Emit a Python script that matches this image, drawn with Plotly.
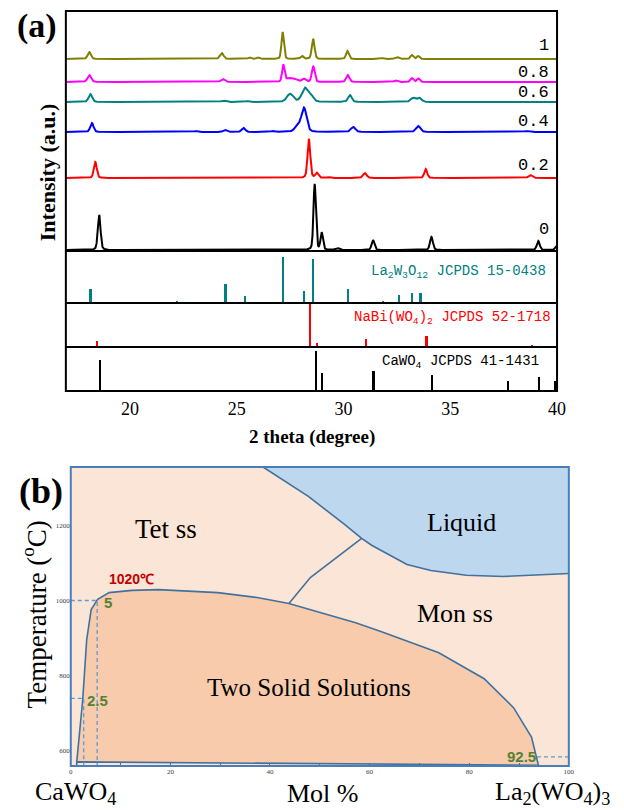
import numpy as np
import plotly.graph_objects as go

# ---------------- DATA : panel (a) XRD ----------------
# peaks: (2theta, intensity a.u., FWHM deg)
peaks_0 = [(18.56, 35, 0.15), (28.65, 66, 0.13), (28.98, 17, 0.13), (29.7, 2, 0.2),
           (31.38, 10, 0.15), (34.12, 13, 0.16), (39.12, 9, 0.16), (39.98, 4, 0.15)]
peaks_02 = [(18.38, 16, 0.16), (28.38, 39, 0.15), (28.75, 5, 0.16), (29.3, 1, 0.2),
            (31.0, 5, 0.2), (33.85, 9, 0.16), (38.75, 3, 0.2)]
peaks_04 = [(18.22, 9, 0.18), (23.1, 1, 0.2), (24.45, 2, 0.2), (25.32, 4, 0.2),
            (26.7, 1, 0.2), (27.85, 6, 0.3), (28.15, 24, 0.28), (30.45, 5, 0.25),
            (33.5, 6, 0.25), (38.6, 1, 0.3)]
peaks_06 = [(18.15, 8, 0.2), (24.4, 1.5, 0.25), (25.5, 1, 0.2), (27.5, 8, 0.35),
            (28.2, 14, 0.35), (28.5, 5, 0.25), (30.3, 7, 0.2), (33.25, 4, 0.25),
            (33.55, 4, 0.25)]
peaks_08 = [(18.1, 7, 0.2), (24.35, 3, 0.2), (27.18, 17, 0.13), (27.45, 4, 0.3),
            (27.75, 2.5, 0.3), (28.15, 3, 0.2), (28.58, 16, 0.15), (30.2, 7, 0.18),
            (32.45, 1.5, 0.2), (33.2, 4, 0.15), (33.5, 3.5, 0.15)]
peaks_1 = [(18.1, 7, 0.18), (24.3, 6, 0.2), (25.6, 1.5, 0.15), (26.0, 1.5, 0.15),
           (27.15, 27, 0.13), (28.05, 3, 0.15), (28.58, 20, 0.15), (30.18, 8, 0.15),
           (31.8, 1, 0.2), (32.5, 2, 0.2), (33.2, 4, 0.15), (33.5, 3, 0.15)]
sample_labels = ["0", "0.2", "0.4", "0.6", "0.8", "1"]

# reference stick patterns
la_pos = [18.15, 22.2, 24.47, 25.4, 27.15, 28.16, 28.58, 30.22, 31.86, 32.6, 33.2, 33.6]
la_int = [14, 2.4, 19, 7, 46, 12, 44, 14, 2.4, 8, 10, 10]
nabi_pos = [18.47, 28.42, 28.75, 31.05, 33.88, 38.82]
nabi_int = [6, 43, 3.6, 8.4, 11, 2]
ca_pos = [18.6, 28.7, 29.0, 31.4, 34.15, 37.7, 39.15, 39.9]
ca_int = [31, 40, 18, 20, 16, 10, 14, 10]
xrd_ticks = [20, 25, 30, 35, 40]

# ---------------- DATA : panel (b) phase diagram ----------------
liquidus_x = [38.6, 47.7, 54.9, 58.4, 60.4, 67.5, 72.3, 79.4, 86.9, 100]
liquidus_T = [1355, 1277, 1203, 1165, 1147, 1096, 1080, 1067, 1064, 1072]
tetmon_x = [58.4, 48.1, 43.8]
tetmon_T = [1165, 1061, 992]
solvus_x = [1.2, 2.4, 3.2, 4.1, 5.4, 7.7, 12.3, 17.6, 29.5, 37.4, 43.8, 57.2, 62.4,
            73.9, 83.0, 88.9, 92.5, 93.9]
solvus_T = [571, 736, 896, 976, 1003, 1021, 1027, 1029, 1021, 1008, 992, 941, 917,
            861, 792, 715, 637, 562]
base_x = [93.9, 1.2, 1.2]
base_T = [562, 571, 560]
dash5_x, dash5_T = [0, 5.3, 5.3], [1000, 1000, 560]
dash25_x, dash25_T = [0, 2.6, 2.6], [740, 740, 560]
dash925_x, dash925_T = [93.6, 100], [584, 584]
pd_xticks = [0, 10, 20, 30, 40, 50, 60, 70, 80, 90, 100]
pd_xticktext = ["0", "", "20", "", "40", "", "60", "", "80", "", "100"]
pd_yticks = [600, 800, 1000, 1200]

# ---------------- helpers / styles ----------------
W, H = 624, 810
def px(x):
    return x / W
def py(y):
    return 1 - y / H

grid = np.linspace(17, 40, 4601)
def profile(peaks):
    y = np.zeros_like(grid)
    for p, h, w in peaks:
        d = (grid - p) / w
        y += h * (0.3 / (1 + 4 * d * d) + 0.7 * np.exp(-4 * np.log(2) * d * d))
    return y

all_peaks = [peaks_0, peaks_02, peaks_04, peaks_06, peaks_08, peaks_1]
style = {
    "colors": ["#000000", "#FF0000", "#0000FF", "#008080", "#FF00FF", "#808000"],
    "offsets": [1, 73, 119, 149, 169, 192],
    "label_y": [229, 165, 122, 92, 72, 45],
}

fig = go.Figure()

for pk, c, off in zip(all_peaks, style["colors"], style["offsets"]):
    fig.add_trace(go.Scatter(x=grid, y=profile(pk) + off, mode="lines",
                             line=dict(color=c, width=2), xaxis="x", yaxis="y",
                             hoverinfo="skip"))

fig.add_trace(go.Bar(x=la_pos, y=la_int, width=0.1, marker=dict(color="#008080", line_width=0),
                     xaxis="x", yaxis="y2"))
fig.add_trace(go.Bar(x=nabi_pos, y=nabi_int, width=0.1, marker=dict(color="#FF0000", line_width=0),
                     xaxis="x", yaxis="y3"))
fig.add_trace(go.Bar(x=ca_pos, y=ca_int, width=0.1, marker=dict(color="#000000", line_width=0),
                     xaxis="x", yaxis="y4"))

# ---- panel (b) ----
pd_line = dict(color="#41719C", width=1.6)
fig.add_trace(go.Scatter(x=liquidus_x + [100, liquidus_x[0]], y=liquidus_T + [1355, liquidus_T[0]],
                         fill="toself", fillcolor="#BDD7EE", mode="lines",
                         line=dict(width=0), xaxis="x2", yaxis="y5", hoverinfo="skip"))
fig.add_trace(go.Scatter(x=solvus_x + base_x[:2], y=solvus_T + base_T[:2],
                         fill="toself", fillcolor="#F8CBAD", mode="lines",
                         line=dict(width=0), xaxis="x2", yaxis="y5", hoverinfo="skip"))
fig.add_trace(go.Scatter(x=liquidus_x, y=liquidus_T, mode="lines", line=pd_line,
                         xaxis="x2", yaxis="y5"))
fig.add_trace(go.Scatter(x=tetmon_x, y=tetmon_T, mode="lines", line=pd_line,
                         xaxis="x2", yaxis="y5"))
fig.add_trace(go.Scatter(x=solvus_x, y=solvus_T, mode="lines", line=pd_line,
                         xaxis="x2", yaxis="y5"))
fig.add_trace(go.Scatter(x=base_x, y=base_T, mode="lines", line=pd_line,
                         xaxis="x2", yaxis="y5"))
for dx, dT in [(dash5_x, dash5_T), (dash25_x, dash25_T), (dash925_x, dash925_T)]:
    fig.add_trace(go.Scatter(x=dx, y=dT, mode="lines",
                             line=dict(color="#5B9BD5", width=1.3, dash="4px,3px"),
                             xaxis="x2", yaxis="y5"))

serif = "Liberation Serif"
mono = "Liberation Mono"
sans = "Liberation Sans"

A_TOP, A_D1, A_D2, A_D3, A_BOT = 11, 251, 303, 347, 391

hidden = dict(visible=False, showgrid=False, zeroline=False, fixedrange=True)
fig.update_layout(
    width=W, height=H, margin=dict(l=0, r=0, t=0, b=0),
    paper_bgcolor="white", plot_bgcolor="white", showlegend=False,
    xaxis=dict(domain=[px(65), px(565)], range=[17, 40], anchor="y4",
               tickvals=xrd_ticks, ticks="", showline=False, showgrid=False,
               zeroline=False, ticklabelstandoff=5,
               tickfont=dict(family=serif, size=18, color="black")),
    yaxis=dict(domain=[py(A_D1), py(A_TOP)], range=[0, A_D1 - A_TOP], anchor="x", **hidden),
    yaxis2=dict(domain=[py(A_D2), py(A_D1)], range=[0, A_D2 - A_D1], anchor="x", **hidden),
    yaxis3=dict(domain=[py(A_D3), py(A_D2)], range=[0, A_D3 - A_D2], anchor="x", **hidden),
    yaxis4=dict(domain=[py(A_BOT), py(A_D3)], range=[0, A_BOT - A_D3], anchor="x", **hidden),
    xaxis2=dict(domain=[px(70), px(577)], range=[0, 100], anchor="y5",
                tickvals=pd_xticks, ticktext=pd_xticktext, ticks="inside", ticklen=3,
                tickcolor="#41719C", showline=False, showgrid=False, zeroline=False,
                tickfont=dict(family=serif, size=7, color="#404040")),
    yaxis5=dict(domain=[py(766), py(467)], range=[560, 1355], anchor="x2",
                tickvals=pd_yticks, ticks="", showline=False, showgrid=False,
                zeroline=False, tickfont=dict(family=serif, size=7, color="#404040")),
    bargap=0,
)

shapes = [
    dict(type="rect", xref="paper", yref="paper", x0=px(70), x1=px(577), y0=py(766), y1=py(467),
         fillcolor="#FBE5D6", line=dict(width=0), layer="below"),
    dict(type="rect", xref="paper", yref="paper", x0=px(65), x1=px(565), y0=py(A_BOT), y1=py(A_TOP),
         line=dict(color="black", width=2), layer="above"),
    dict(type="rect", xref="paper", yref="paper", x0=px(70), x1=px(577), y0=py(766), y1=py(467),
         line=dict(color="#4A7EBB", width=2), layer="above"),
]
for yy in [A_D1, A_D2, A_D3]:
    shapes.append(dict(type="line", xref="paper", yref="paper", x0=px(65), x1=px(565),
                       y0=py(yy), y1=py(yy), line=dict(color="black", width=2), layer="above"))
fig.update_layout(shapes=shapes)

ann = []
def A(text, x, y, size, family=serif, color="black", xanchor="center", angle=0):
    ann.append(dict(text=text, x=px(x), y=py(y), xref="paper", yref="paper", showarrow=False,
                    xanchor=xanchor, yanchor="middle", textangle=angle,
                    font=dict(family=family, size=size, color=color)))

A("<b>(a)</b>", 36, 26, 34)
A("<b>Intensity (a.u.)</b>", 46, 172, 22, angle=-90)
A("<b>2 theta (degree)</b>", 316, 437, 19)
for lab, yy in zip(sample_labels, style["label_y"]):
    A(lab, 559, yy, 17, family=mono, xanchor="right")
A("La<sub>2</sub>W<sub>3</sub>O<sub>12</sub> JCPDS 15-0438", 556, 272, 14, family=mono,
  color="#008080", xanchor="right")
A("NaBi(WO<sub>4</sub>)<sub>2</sub> JCPDS 52-1718", 561, 318, 14, family=mono,
  color="#FF0000", xanchor="right")
A("CaWO<sub>4</sub> JCPDS 41-1431", 549, 362, 14, family=mono, xanchor="right")

A("<b>(b)</b>", 40, 491, 36)
A("Temperature (<sup>o</sup>C)", 33, 614, 27, angle=-90)
A("CaWO<sub>4</sub>", 75, 793, 26)
A("Mol %", 327, 793, 26)
A("La<sub>2</sub>(WO<sub>4</sub>)<sub>3</sub>", 560, 793, 26)

def D(text, x, T, size, family=serif, color="black", bold=False):
    ann.append(dict(text=("<b>%s</b>" % text) if bold else text, x=x, y=T, xref="x2", yref="y5",
                    showarrow=False, xanchor="center", yanchor="middle",
                    font=dict(family=family, size=size, color=color)))

D("Tet ss", 19.2, 1190, 27)
D("Liquid", 78.4, 1208, 26)
D("Mon ss", 77.2, 965, 26)
D("Two Solid Solutions", 47.9, 768, 25)
D("1020℃", 12.1, 1056, 14, family=sans, color="#C00000", bold=True)
D("5", 7.5, 995, 15, family=sans, color="#548235", bold=True)
D("2.5", 5.4, 733, 15, family=sans, color="#548235", bold=True)
D("92.5", 90.5, 584, 15, family=sans, color="#548235", bold=True)

fig.update_layout(annotations=ann)
fig.write_html("out.html")
